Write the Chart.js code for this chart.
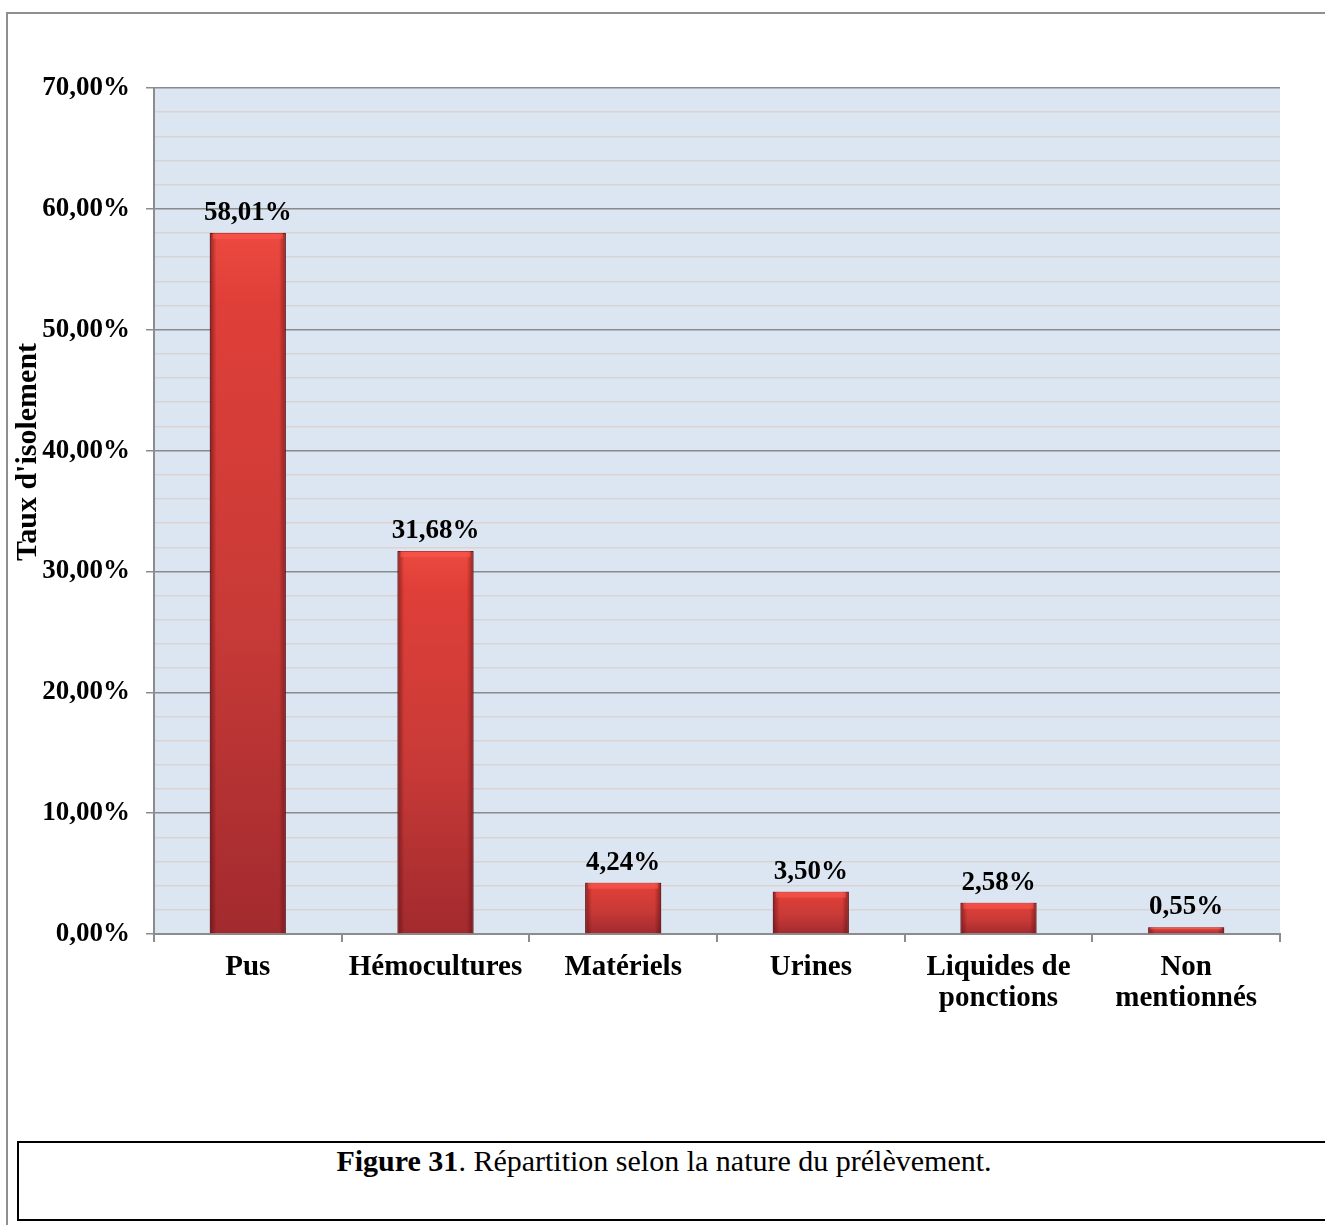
<!DOCTYPE html>
<html>
<head>
<meta charset="utf-8">
<script src="https://cdn.jsdelivr.net/npm/chart.js@4.4.1/dist/chart.umd.min.js"></script>
<style>
  html, body { margin: 0; padding: 0; background: #fff; width: 1325px; height: 1225px; overflow: hidden; position: relative; }
  #frame { position: absolute; left: 6px; top: 12px; width: 1340px; height: 1300px; border: 2px solid #8f8f8f; box-sizing: border-box; }
  #chart { position: absolute; left: 0; top: 0; }
  #caption { position: absolute; left: 17px; top: 1141px; width: 1340px; height: 80px; border: 2px solid #000; box-sizing: border-box;
    font-family: "Liberation Serif", "Times New Roman", serif; font-size: 30px; color: #000; }
  #caption span.txt { position: absolute; left: 0; width: 1290px; top: 1px; text-align: center; }
</style>
</head>
<body>
<div id="frame"></div>
<canvas id="chart" width="1325" height="1130"></canvas>
<div id="caption"><span class="txt"><b>Figure 31</b>. Répartition selon la nature du prélèvement.</span></div>
<script>
const categories = ['Pus', 'Hémocultures', 'Matériels', 'Urines', ['Liquides de', 'ponctions'], ['Non', 'mentionnés']]
const tauxIsolement = [58.01, 31.68, 4.24, 3.50, 2.58, 0.55]
const yTicks = [0, 10, 20, 30, 40, 50, 60, 70]

const serif = '"Liberation Serif", "Times New Roman", serif'

function pct(v) {
  return v.toFixed(2).replace('.', ',') + '%'
}

// light blue plot background
const plotBg = {
  id: 'plotBg',
  beforeDraw(chart) {
    const { ctx, chartArea: a } = chart
    ctx.save()
    ctx.fillStyle = '#dce6f2'
    ctx.fillRect(a.left, a.top, a.right - a.left, a.bottom - a.top)
    ctx.restore()
  },
}

// side shading on bars + value labels
const barExtras = {
  id: 'barExtras',
  afterDatasetsDraw(chart) {
    const { ctx } = chart
    const meta = chart.getDatasetMeta(0)
    ctx.save()
    meta.data.forEach((bar, i) => {
      const left = bar.x - bar.width / 2
      const h = bar.base - bar.y
      let g = ctx.createLinearGradient(left, 0, left + bar.width, 0)
      g.addColorStop(0, 'rgba(80,8,12,0.55)')
      g.addColorStop(0.09, 'rgba(80,8,12,0.0)')
      g.addColorStop(0.91, 'rgba(80,8,12,0.0)')
      g.addColorStop(1, 'rgba(80,8,12,0.55)')
      ctx.fillStyle = g
      ctx.fillRect(left, bar.y, bar.width, h)
      const bevel = Math.min(6, h / 3)
      ctx.fillStyle = 'rgba(255,90,80,0.55)'
      ctx.fillRect(left + 3, bar.y, bar.width - 6, bevel)

      ctx.fillStyle = '#000'
      ctx.font = 'bold 27px ' + serif
      ctx.textAlign = 'center'
      ctx.textBaseline = 'alphabetic'
      ctx.fillText(pct(tauxIsolement[i]), bar.x, bar.y - 13)
    })
    ctx.restore()
  },
}

// y axis title, placed like the original
const yTitle = {
  id: 'yTitle',
  afterDraw(chart) {
    const { ctx } = chart
    ctx.save()
    ctx.translate(28, 452)
    ctx.rotate(-Math.PI / 2)
    ctx.fillStyle = '#000'
    ctx.font = 'bold 30px ' + serif
    ctx.textAlign = 'center'
    ctx.textBaseline = 'middle'
    ctx.fillText("Taux d'isolement", 0, 0)
    ctx.restore()
  },
}

new Chart(document.getElementById('chart'), {
  type: 'bar',
  data: {
    labels: categories,
    datasets: [
      {
        data: tauxIsolement,
        backgroundColor: (c) => {
          const chart = c.chart
          if (!chart.chartArea || c.raw === undefined) return '#cc3a36'
          const top = chart.scales.y.getPixelForValue(c.raw)
          const bottom = chart.scales.y.getPixelForValue(0)
          const g = chart.ctx.createLinearGradient(0, top, 0, bottom)
          g.addColorStop(0, '#ec4a40')
          g.addColorStop(0.1, '#df3f38')
          g.addColorStop(0.55, '#c83a37')
          g.addColorStop(1, '#a22a2e')
          return g
        },
        borderColor: '#7e1c20',
        borderWidth: 1,
        barPercentage: 0.405,
        categoryPercentage: 1,
      },
    ],
  },
  options: {
    responsive: false,
    animation: false,
    layout: { padding: { left: 0, top: 88, right: 45, bottom: 0 } },
    plugins: {
      legend: { display: false },
      tooltip: { enabled: false },
    },
    scales: {
      x: {
        afterFit: (scale) => { scale.height = 196 },
        grid: {
          offset: true,
          drawOnChartArea: false,
          drawTicks: true,
          tickLength: 8,
          color: '#8c8c8c',
          lineWidth: 2,
        },
        border: { color: '#8c8c8c', width: 2 },
        ticks: {
          color: '#000',
          padding: 10,
          maxRotation: 0,
          autoSkip: false,
          font: { family: serif, size: 29, weight: 'bold', lineHeight: 1.07 },
        },
      },
      y: {
        min: 0,
        max: 70,
        afterFit: (scale) => { scale.width = 154 },
        afterBuildTicks: (scale) => {
          const t = []
          for (let v = 0; v <= 70; v += 2) t.push({ value: v })
          scale.ticks = t
        },
        grid: {
          color: (c) => (yTicks.includes(c.tick.value) ? '#8a8a8a' : '#d9d4d2'),
          lineWidth: 1.5,
          tickColor: (c) => (yTicks.includes(c.tick.value) ? '#8c8c8c' : 'rgba(0,0,0,0)'),
          tickLength: 8,
        },
        border: { color: '#8c8c8c', width: 2 },
        ticks: {
          color: '#000',
          padding: 16,
          autoSkip: false,
          font: { family: serif, size: 27, weight: 'bold' },
          callback: (v) => (yTicks.includes(v) ? pct(v) : ''),
        },
      },
    },
  },
  plugins: [plotBg, barExtras, yTitle],
})
</script>
</body>
</html>
